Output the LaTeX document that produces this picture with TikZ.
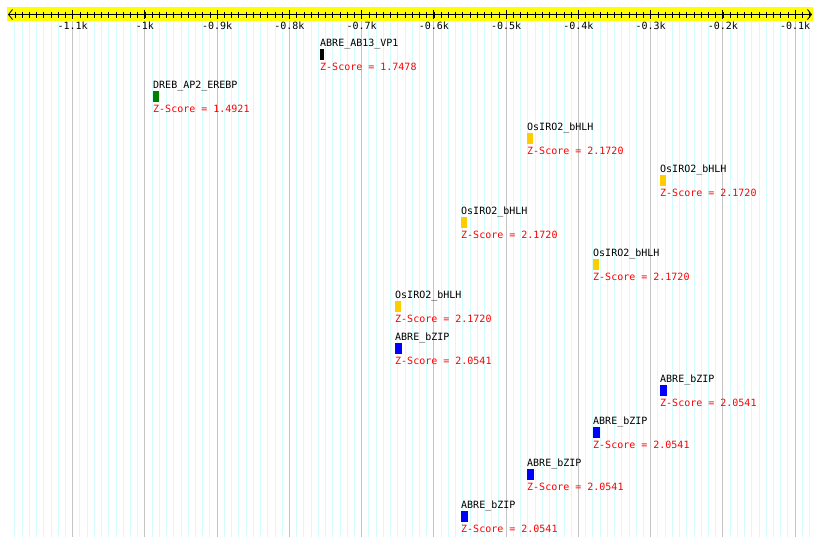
\documentclass[tikz,border=0pt]{standalone}
\usepackage{fontspec}
\setmonofont{DejaVu Sans Mono}
\usetikzlibrary{arrows.meta,positioning}
\definecolor{rulerYellow}{HTML}{FFFF00}
\definecolor{gridCyan}{HTML}{D4FCFC}
\definecolor{gridGrey}{HTML}{C4C4C4}
\definecolor{zRed}{HTML}{FF0000}
\definecolor{tfBlack}{HTML}{000000}
\definecolor{tfGreen}{HTML}{007F00}
\definecolor{tfGold}{HTML}{FFCC00}
\definecolor{tfBlue}{HTML}{0000FF}
\tikzset{
  pixfont/.style={font=\ttfamily\fontsize{10}{10}\selectfont},
  motiflabel/.style={pixfont, anchor=base west, inner sep=0pt, text depth=2pt},
  motifbar/.style={inner sep=0pt, minimum height=11pt},
  zscore/.style={pixfont, inner sep=0pt, text height=8pt, text depth=2pt, text=zRed},
  ticklabel/.style={pixfont, inner sep=0pt},
  ruler/.style={{Straight Barb[length=4pt,width=10pt]}-{Straight Barb[length=4pt,width=10pt]}, line width=.8pt},
  minortick/.style={line width=.8pt},
  majortick/.style={line width=1pt}
}

\begin{document}
\begin{tikzpicture}[x=1pt, y=-1pt]
  \useasboundingbox[fill=white] (0,0) rectangle (820,547);

  % grid and ruler
  \foreach \i in {0,...,110}
    \draw[gridCyan, line width=1pt] ({14.9+\i*7.225},21) -- ({14.9+\i*7.225},537);
  \fill[rulerYellow] (7,7) rectangle (813,21);
  \coordinate (rulerL) at (8,14.5);
  \coordinate (rulerR) at (812,14.5);
  \draw[ruler] (rulerL) -- (rulerR);
  \foreach \i in {0,...,110}
    \draw[minortick] ({14.9+\i*7.225},11.5) -- ({14.9+\i*7.225},17.5);
  \foreach \k/\txt in {0/-1.1k,1/-1k,2/-0.9k,3/-0.8k,4/-0.7k,5/-0.6k,6/-0.5k,7/-0.4k,8/-0.3k,9/-0.2k,10/-0.1k} {
    \draw[gridGrey, line width=1pt] ({72.7+\k*72.25},21) -- ({72.7+\k*72.25},537);
    \draw[majortick] ({72.7+\k*72.25},9.5) -- ({72.7+\k*72.25},19);
    \node[ticklabel] (tl\k) at ({72.7+\k*72.25},25.5) {\txt};
  }

  % motif hits: x / row / name / colour / bar width / score
  \foreach \n/\x/\row/\tf/\col/\w/\z in {
      1/320/1/ABRE\_AB13\_VP1/tfBlack/4/1.7478,
      2/153/2/DREB\_AP2\_EREBP/tfGreen/6/1.4921,
      3/527/3/OsIRO2\_bHLH/tfGold/6/2.1720,
      4/660/4/OsIRO2\_bHLH/tfGold/6/2.1720,
      5/461/5/OsIRO2\_bHLH/tfGold/6/2.1720,
      6/593/6/OsIRO2\_bHLH/tfGold/6/2.1720,
      7/395/7/OsIRO2\_bHLH/tfGold/6/2.1720,
      8/395/8/ABRE\_bZIP/tfBlue/6.5/2.0541,
      9/660/9/ABRE\_bZIP/tfBlue/6.5/2.0541,
      10/593/10/ABRE\_bZIP/tfBlue/6.5/2.0541,
      11/527/11/ABRE\_bZIP/tfBlue/6.5/2.0541,
      12/461/12/ABRE\_bZIP/tfBlue/6.5/2.0541} {
    \node[motiflabel] (m\n lbl) at (\x,{42*\row+4.3}) {\tf};
    \node[motifbar, fill=\col, minimum width=\w pt, below right=0.4pt and 0pt of m\n lbl.south west] (m\n bar) {};
    \node[zscore, below right=2.3pt and 0pt of m\n bar.south west] (m\n z) {Z-Score = \z};
  }
\end{tikzpicture}
\end{document}
